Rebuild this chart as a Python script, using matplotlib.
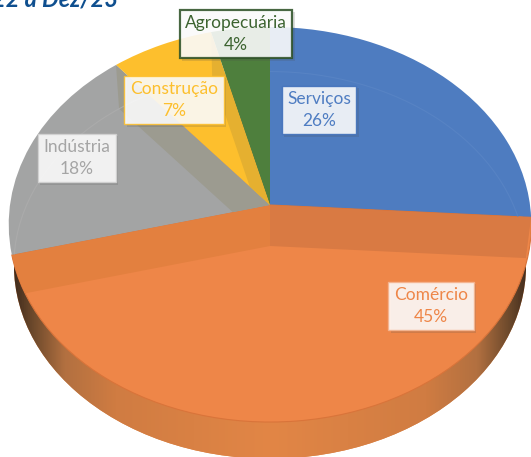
#!/usr/bin/env python3
"""3D-looking pie of share by sector, drawn with ax.pie through a perspective transform."""
import numpy as np

import matplotlib
matplotlib.use("Agg")
import matplotlib.pyplot as plt  # noqa: E402
import matplotlib.patheffects as pe  # noqa: E402
from matplotlib.colors import LinearSegmentedColormap  # noqa: E402
from matplotlib.patches import Circle  # noqa: E402
from matplotlib.transforms import Transform  # noqa: E402

plt.rcParams["font.family"] = ["Lato", "DejaVu Sans"]

categories = ["Serviços", "Comércio", "Indústria", "Construção", "Agropecuária"]
shares = [26, 45, 18, 7, 4]
colors = ["#4E7CC0", "#EE8648", "#A3A4A4", "#FDBF2D", "#4E7F3D"]
text_colors = ["#4F7DC2", "#EE8648", "#A5A5A5", "#FDBF2D", "#3C6330"]
edge_colors = ["#3F6FBA", "#F4B490", "#D2D2D2", "#FDBF2D", "#2F5228"]
label_xy = [(319, 110), (431, 306), (77, 158), (174, 100), (236, 34)]
title_tail = "22 a Dez/23"


class Perspective(Transform):
    """Unit pie circle to pixel coordinates, the circle centre going to the apex."""
    input_dims = 2
    output_dims = 2
    is_separable = False
    has_inverse = False

    def __init__(self, apex_y, scale=1.0):
        super().__init__()
        self.apex_y = apex_y
        self.scale = scale

    def transform_non_affine(self, values):
        values = np.asarray(values, dtype=float)
        x, y = values[:, 0], values[:, 1]
        den = 1 + 0.0988 * y
        return np.column_stack((270 + self.scale * 260 * x / den,
                                self.apex_y - self.scale * 195.6 * y / den))


top = Perspective(205)
bottom = Perspective(246, 0.98)


def rim(frac):
    # point of the unit circle for a cumulative share, going clockwise from 12h
    t = 2 * np.pi * frac
    return np.array([[np.sin(t), np.cos(t)]])


def band(ax, frac, color, clip):
    # cut face of a slice, seen through the top surface
    pts = np.vstack((top.transform(np.zeros((1, 2))), top.transform(rim(frac)),
                     bottom.transform(rim(frac)), bottom.transform(np.zeros((1, 2)))))
    poly = ax.fill(pts[:, 0], pts[:, 1], color=color, lw=0, zorder=3)[0]
    poly.set_clip_path(clip)


def main():
    fig = plt.figure(figsize=(5.31, 4.57), dpi=100)
    ax = fig.add_axes([0, 0, 1, 1])

    wedges, _ = ax.pie(shares, colors=colors, startangle=90, counterclock=False,
                       radius=1, wedgeprops={"lw": 0, "zorder": 2})
    for w in wedges:
        w.set_transform(top + ax.transData)
    wedges[1].set_edgecolor("#D9743A")
    wedges[1].set_linewidth(0.8)

    # side wall: shaded strip clipped to the lower disc
    disc = Circle((0, 0), 1, transform=bottom + ax.transData, fc="#E08545", lw=0, zorder=1)
    ax.add_patch(disc)
    wall = LinearSegmentedColormap.from_list(
        "wall", [(0, "#3E2A1C"), (0.04, "#6E4A2C"), (0.1, "#B27040"), (0.2, "#D07C42"),
                 (0.5, "#E28646"), (0.8, "#D07C42"), (0.9, "#B27040"), (0.96, "#6E4A2C"),
                 (1, "#3E2A1C")])
    im = ax.imshow(np.linspace(0, 1, 256)[None, :], cmap=wall, aspect="auto",
                   extent=(12, 530, 457, 240), zorder=1.5)
    im.set_clip_path(disc)

    cum = np.cumsum(shares) / sum(shares)
    band(ax, cum[0], "#D97A43", wedges[1])
    band(ax, cum[1], "#E3803F", wedges[1])
    band(ax, cum[2], "#9C9B90", wedges[2])
    band(ax, cum[3], "#E5B030", wedges[3])

    # faint rim of the lower disc, showing through the far slices
    for i, col in [(0, "#5783C4"), (2, "#ABABAB")]:
        arc = Circle((0, 0), 1, transform=bottom + ax.transData, fc="none",
                     ec=col, lw=0.8, zorder=3.5)
        ax.add_patch(arc)
        arc.set_clip_path(wedges[i])

    ax.set_aspect("auto")
    ax.set_xlim(0, 531)
    ax.set_ylim(457, 0)
    ax.axis("off")

    for name, val, (x, y), tc, ec in zip(categories, shares, label_xy, text_colors, edge_colors):
        t = ax.text(x, y, f"{name}\n{val}%", color=tc, fontsize=12.5, ha="center", va="center",
                    linespacing=1.45, zorder=5,
                    bbox={"boxstyle": "square,pad=0.32", "fc": "white", "alpha": 0.88,
                          "ec": ec, "lw": 1.6 if name == "Agropecuária" else 1.0})
        t.get_bbox_patch().set_path_effects(
            [pe.SimplePatchShadow(offset=(1.5, -1.5), alpha=0.18), pe.Normal()])

    ax.text(118, 6, title_tail, color="#0F4F8F", fontsize=17, fontweight="bold",
            fontstyle="italic", ha="right", va="baseline", zorder=5, clip_on=False)

    fig.savefig("out.png", dpi=100)
    plt.close(fig)


if __name__ == "__main__":
    main()
